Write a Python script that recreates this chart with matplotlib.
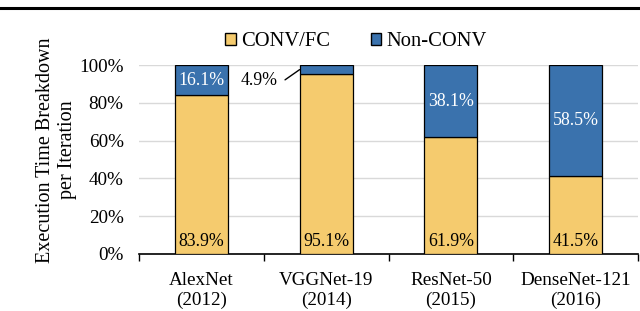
import matplotlib
matplotlib.use("Agg")
import matplotlib.pyplot as plt
from matplotlib.lines import Line2D
import numpy as np

categories = ["AlexNet\n(2012)", "VGGNet-19\n(2014)", "ResNet-50\n(2015)", "DenseNet-121\n(2016)"]
conv_fc = [83.9, 95.1, 61.9, 41.5]
non_conv = [16.1, 4.9, 38.1, 58.5]
yticks = [0, 20, 40, 60, 80, 100]

plt.rcParams['font.family'] = ['Liberation Serif', 'DejaVu Serif']

yellow = '#F5CB6E'
blue = '#3A72AD'

fig = plt.figure(figsize=(6.4, 3.11), dpi=100)
ax = fig.add_axes([139/640, 1-254/311, (638-139)/640, (254-65)/311])

x = np.arange(len(categories))
w = 0.425
ax.bar(x, conv_fc, w, color=yellow, edgecolor='black', linewidth=0.9, label='CONV/FC', zorder=3)
ax.bar(x, non_conv, w, bottom=conv_fc, color=blue, edgecolor='black', linewidth=0.9, label='Non-CONV', zorder=3)

ax.set_xlim(-0.5, len(categories) - 0.5)
ax.set_ylim(0, 100)
ax.set_yticks(yticks)
ax.set_yticklabels([f"{v}%" for v in yticks], fontsize=13.8)
ax.yaxis.grid(True, color='#d9d9d9', linewidth=1.0, zorder=0)
ax.tick_params(axis='y', length=0, pad=11)

ax.set_xticks(x)
ax.set_xticklabels(categories, fontsize=13.8, linespacing=1.2)
ax.tick_params(axis='x', length=0, pad=13)
ax.set_xticks(np.arange(len(categories) + 1) - 0.5, minor=True)
ax.tick_params(axis='x', which='minor', length=5, width=1, direction='out', color='black')

for s in ['top', 'right', 'left']:
    ax.spines[s].set_visible(False)
ax.spines['bottom'].set_linewidth(1.2)

ax.set_ylabel("Execution Time Breakdown\nper Iteration", fontsize=14.5, linespacing=1.25)
ax.yaxis.set_label_coords(-0.124, 0.55)

for i in range(len(categories)):
    ax.text(x[i], 6.5, f"{conv_fc[i]}%", ha='center', va='center', fontsize=12.8, color='black', zorder=4)
    if non_conv[i] > 10:
        ax.text(x[i], conv_fc[i] + non_conv[i] / 2, f"{non_conv[i]}%", ha='center', va='center',
                fontsize=12.8, color='white', zorder=4)
    else:
        ax.annotate(f"{non_conv[i]}%", xy=(x[i] - w/2, conv_fc[i] + non_conv[i]/2),
                    xytext=(x[i] - 0.385, 92), ha='right', va='center',
                    fontsize=12.8, arrowprops=dict(arrowstyle='-', color='black', lw=1.0,
                                                   shrinkA=3, shrinkB=0,
                                                   connectionstyle='angle,angleA=0,angleB=35,rad=0'),
                    zorder=4)

leg = fig.legend(loc='center', bbox_to_anchor=(356/640, 1-41.7/311), ncol=2, frameon=False,
                 fontsize=14.8, handlelength=0.5, handleheight=0.5, handletextpad=0.25,
                 columnspacing=2.0)
for h in leg.legend_handles:
    h.set_edgecolor('black')
    h.set_linewidth(1.0)

fig.add_artist(Line2D([0, 1], [1-8.3/311, 1-8.3/311], color='black', linewidth=2.2, transform=fig.transFigure))

fig.savefig('out.png', dpi=100)
